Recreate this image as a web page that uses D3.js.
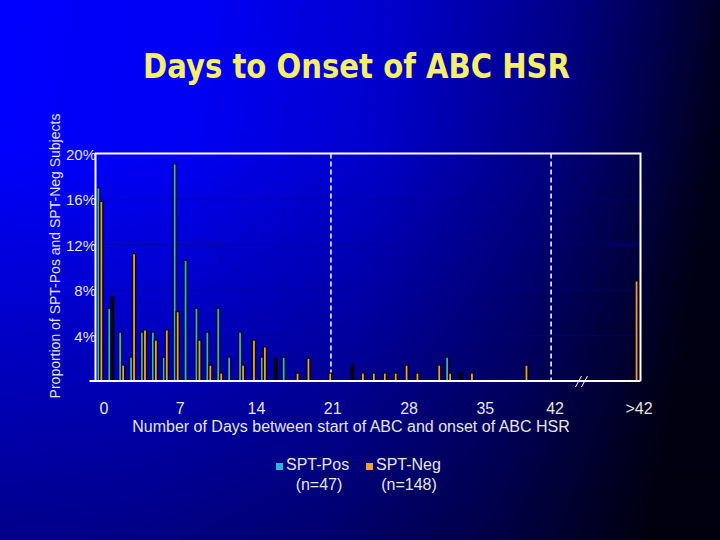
<!DOCTYPE html>
<html><head><meta charset="utf-8">
<script src="https://cdn.jsdelivr.net/npm/d3@7"></script>
<style>html,body{margin:0;padding:0;background:#000;}svg{display:block;}</style>
</head><body>
<svg id="chart" width="720" height="540"></svg>
<script>
// ---- data ----
const categories = ["0","1","2","3","4","5","6","7","8","9","10","11","12","13","14","15","16","17","18","19","20","21","22","23","24","25","26","27","28","29","30","31","32","33","34","35","36","37","38","39","40","41",">42"];
// SPT-Pos (n=47), percent of subjects
const posVals = [17.0,6.4,4.3,2.1,4.3,4.3,2.1,19.1,10.6,6.4, 4.3,6.4,2.1,4.3,0,2.1,0,2.1,0,0, 0,0,0,0,0,0,0,0,0,0, 0,0,2.1,0,0,0,0,0,0,0, 0,0,0];
// SPT-Neg (n=148), percent of subjects
const negVals = [15.8,0,1.4,11.2,4.5,3.6,4.5,6.1,0,3.6, 1.4,0.7,0,1.4,3.6,3.0,0,0,0.7,2.0, 0,0.7,0,0,0.7,0.7,0.7,0.7,1.4,0.7, 0,1.4,0.7,0,0.7,0,0,0,0,1.4, 0,0,8.8];
// dark (unfilled) bars visible in the original at the SPT-Neg slot
const darkVals = [0,7.4,0,0,0,0,0,0,0,0, 0,0,0,0,0,0,2.0,0,0,0, 0,0,0,1.4,0,0,0,0,0,0, 0,0,0,0.7,0,0,0,0,0,0, 0,0,0];
const tickDays = [0,7,14,21,28,35,41.4];
const tickLabels = ["0","7","14","21","28","35","42",">42"];
const yTicks = [4,8,12,16,20];
const dividerDays = [21.2, 41.4];
const seriesNames = ["SPT-Pos","SPT-Neg"];
const seriesCounts = ["(n=47)","(n=148)"];
const titleText = "Days to Onset of ABC HSR";
const xTitle = "Number of Days between start of ABC and onset of ABC HSR";
const yTitle = "Proportion of SPT-Pos and SPT-Neg Subjects";

// ---- layout ----
const W = 720, H = 540;
const pLeft = 95.5, pRight = 640.5, pTop = 153.5, pBottom = 381;
const overflowSlot = 49.1;
const tealC = "#2fb4d8", orangeC = "#f0a030", textC = "#e6e6e6";

const svg = d3.select("#chart");
const defs = svg.append("defs");
const grad = defs.append("linearGradient").attr("id","bg")
  .attr("gradientUnits","userSpaceOnUse").attr("x1",0).attr("y1",0).attr("x2",720).attr("y2",120);
[[0,"#0000ff"],[0.3,"#0000f2"],[0.55,"#0000c8"],[0.78,"#000080"],[0.92,"#000040"],[1,"#000018"]]
  .forEach(([o,c]) => grad.append("stop").attr("offset",o).attr("stop-color",c));
const shade = defs.append("linearGradient").attr("id","shade")
  .attr("gradientUnits","userSpaceOnUse").attr("x1",0).attr("y1",150).attr("x2",0).attr("y2",540);
[[0,0],[1,0.45]].forEach(([o,a]) => shade.append("stop").attr("offset",o).attr("stop-color","#000").attr("stop-opacity",a));
svg.append("rect").attr("width",W).attr("height",H).attr("fill","url(#bg)");
svg.append("rect").attr("width",W).attr("height",H).attr("fill","url(#shade)");

const x = d3.scaleLinear().domain([-0.4, 49.6]).range([pLeft, pRight]);
const y = d3.scaleLinear().domain([0, 20]).range([pBottom, pTop]);
const slot = i => categories[i] === ">42" ? overflowSlot : +categories[i];

// title
svg.append("text").attr("x",356.5).attr("y",78).attr("text-anchor","middle")
  .attr("font-family","DejaVu Sans").attr("font-weight","bold").attr("font-size",33)
  .attr("textLength",427).attr("lengthAdjust","spacingAndGlyphs")
  .attr("fill","#f6ef6a").text(titleText);

// gridlines
svg.append("g").selectAll("line").data(yTicks.slice(0,-1)).join("line")
  .attr("x1",pLeft).attr("x2",pRight).attr("y1",d=>y(d)).attr("y2",d=>y(d))
  .attr("stroke","#00008c").attr("stroke-opacity",0.4).attr("stroke-width",1);

// divider dashed lines
svg.append("g").selectAll("line").data(dividerDays).join("line")
  .attr("x1",d=>x(d)).attr("x2",d=>x(d)).attr("y1",pTop).attr("y2",pBottom)
  .attr("stroke","#ffffff").attr("stroke-width",1.5).attr("stroke-dasharray","5,3");

// bars
const idx = d3.range(categories.length);
const bars = svg.append("g");
function drawSeries(vals, off, fill) {
  bars.append("g").selectAll("rect").data(idx.filter(i => vals[i] > 0)).join("rect")
    .attr("x", i => x(slot(i)) + off - 1.5)
    .attr("width", 3)
    .attr("y", i => y(vals[i]))
    .attr("height", i => pBottom - y(vals[i]))
    .attr("fill", fill).attr("stroke", "#000010").attr("stroke-width", 1.2);
}
drawSeries(darkVals, 1.5, "#000020");
drawSeries(posVals, -1.5, tealC);
drawSeries(negVals, 1.5, orangeC);

// frame
const frame = svg.append("g").attr("stroke","#ffffff").attr("stroke-width",2).attr("fill","none");
frame.append("path").attr("d",`M${pLeft},${pBottom}V${pTop}H${pRight}V${pBottom}`);
frame.append("line").attr("x1",pLeft-6).attr("x2",pRight).attr("y1",pBottom).attr("y2",pBottom);

// axis break
const bx = 581.5;
svg.append("g").selectAll("line").data([-3,3]).join("line")
  .attr("x1",d=>bx+d-3).attr("x2",d=>bx+d+3).attr("y1",pBottom+6).attr("y2",pBottom-5)
  .attr("stroke","#ffffff").attr("stroke-width",1);

// y tick labels
svg.append("g").selectAll("text").data(yTicks).join("text")
  .attr("x",96).attr("y",d=>y(d)+6).attr("text-anchor","end")
  .attr("font-family","Liberation Sans").attr("font-size",15).attr("fill",textC)
  .text(d=>d+"%");

// x tick labels
const tickPos = tickDays.concat([overflowSlot]);
svg.append("g").selectAll("text").data(tickPos).join("text")
  .attr("x",d=>x(d)+4).attr("y",414).attr("text-anchor","middle")
  .attr("font-family","Liberation Sans").attr("font-size",16).attr("fill",textC)
  .text((d,i)=>tickLabels[i]);

// axis titles
svg.append("text").attr("x",351).attr("y",432).attr("text-anchor","middle")
  .attr("font-family","Liberation Sans").attr("font-size",16).attr("fill",textC).text(xTitle);
svg.append("text").attr("transform","translate(60,256) rotate(-90)").attr("text-anchor","middle")
  .attr("font-family","Liberation Sans").attr("font-size",14).attr("fill",textC).text(yTitle);

// legend
const lg = svg.append("g");
const legX = [276, 366], legColors = [tealC, orangeC];
seriesNames.forEach((n,i) => {
  lg.append("rect").attr("x",legX[i]).attr("y",463).attr("width",7).attr("height",7).attr("fill",legColors[i]);
  lg.append("text").attr("x",legX[i]+10).attr("y",470).attr("font-family","Liberation Sans")
    .attr("font-size",16).attr("fill",textC).text(n);
  lg.append("text").attr("x",legX[i]+43).attr("y",490).attr("text-anchor","middle").attr("font-family","Liberation Sans")
    .attr("font-size",16).attr("fill",textC).text(seriesCounts[i]);
});
</script>
</body></html>
